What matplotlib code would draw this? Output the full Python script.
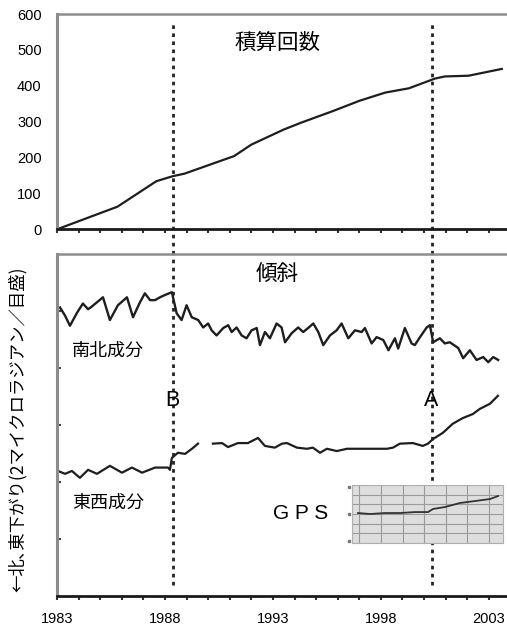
import matplotlib
matplotlib.use("Agg")
import matplotlib.pyplot as plt
import numpy as np

plt.rcParams['font.family'] = ['Liberation Sans', 'Noto Sans CJK JP', 'DejaVu Sans']

# ---- data ----
cum_years = [1983.0, 1985.8, 1987.6, 1988.36, 1988.9, 1991.2, 1992.0, 1993.5, 1994.3,
             1995.8, 1997.0, 1998.2, 1999.3, 2000.5, 2000.96, 2002.06, 2003.6]
cum_counts = [0, 63, 134, 148, 155, 204, 236, 278, 297, 330, 358, 381, 393, 420, 426, 428, 447]

ns_years = [1983.14, 1983.37, 1983.60, 1983.93, 1984.20, 1984.44, 1984.62, 1985.13, 1985.45,
            1985.82, 1986.24, 1986.52, 1986.84, 1987.07, 1987.31, 1987.54, 1987.77, 1988.00,
            1988.32, 1988.54, 1988.77, 1989.00, 1989.24, 1989.54, 1989.77, 1990.00, 1990.16,
            1990.39, 1990.70, 1990.93, 1991.09, 1991.32, 1991.55, 1991.78, 1992.01, 1992.25,
            1992.40, 1992.63, 1992.86, 1993.17, 1993.40, 1993.56, 1993.87, 1994.17, 1994.40,
            1994.63, 1994.87, 1995.10, 1995.33, 1995.64, 1995.95, 1996.18, 1996.49, 1996.80,
            1997.11, 1997.26, 1997.57, 1997.80, 1998.11, 1998.35, 1998.65, 1998.80, 1999.11,
            1999.42, 1999.57, 1999.81, 2000.12, 2000.27, 2000.42, 2000.73, 2000.96, 2001.19,
            2001.58, 2001.81, 2002.12, 2002.43, 2002.74, 2002.97, 2003.20, 2003.43]
ns_values = [5.06, 4.92, 4.74, 4.97, 5.13, 5.03, 5.08, 5.24, 4.84,
             5.10, 5.24, 4.89, 5.15, 5.31, 5.19, 5.19, 5.24, 5.28,
             5.33, 4.96, 4.84, 5.10, 4.89, 4.84, 4.71, 4.78, 4.66,
             4.57, 4.70, 4.75, 4.63, 4.71, 4.57, 4.52, 4.66, 4.70,
             4.40, 4.63, 4.52, 4.78, 4.71, 4.45, 4.61, 4.71, 4.63,
             4.70, 4.78, 4.63, 4.40, 4.57, 4.66, 4.78, 4.52, 4.66,
             4.63, 4.70, 4.43, 4.54, 4.49, 4.31, 4.52, 4.34, 4.70,
             4.43, 4.40, 4.54, 4.71, 4.75, 4.45, 4.52, 4.43, 4.45,
             4.35, 4.17, 4.31, 4.14, 4.19, 4.10, 4.19, 4.14]

ew_years = [1983.05, 1983.37, 1983.69, 1984.06, 1984.44, 1984.85, 1985.45, 1986.01, 1986.47,
            1986.94, 1987.54, 1988.14, 1988.23, 1988.32, 1988.60, 1988.93, 1989.25, 1989.53,
            1989.85,
            1990.22, 1990.64, 1990.92, 1991.38, 1991.84, 1992.31, 1992.63, 1993.09, 1993.42,
            1993.65, 1994.11, 1994.57, 1994.85, 1995.18, 1995.50, 1995.96, 1996.43, 1997.03,
            1997.63, 1998.28, 1998.56, 1998.88, 1999.48, 1999.94, 2000.18, 2000.41, 2000.87,
            2001.33, 2001.80, 2002.26, 2002.58, 2003.05, 2003.42]
ew_values = [2.19, 2.14, 2.19, 2.07, 2.21, 2.14, 2.28, 2.16, 2.25,
             2.16, 2.25, 2.25, 2.21, 2.42, 2.51, 2.49, 2.58, 2.67,
             np.nan,
             2.67, 2.68, 2.61, 2.68, 2.68, 2.77, 2.63, 2.60, 2.67,
             2.68, 2.60, 2.58, 2.60, 2.51, 2.58, 2.54, 2.58, 2.58,
             2.58, 2.58, 2.60, 2.67, 2.68, 2.63, 2.67, 2.75, 2.86,
             3.02, 3.12, 3.19, 3.28, 3.37, 3.51]

gps_years = [1996.94, 1997.49, 1998.19, 1998.88, 1999.57, 2000.18, 2000.41, 2000.96,
             2001.66, 2002.35, 2003.05, 2003.42]
gps_values = [3.10, 3.00, 3.10, 3.10, 3.20, 3.20, 3.52, 3.72, 4.14, 4.34, 4.55, 4.86]

event_years = [1988.37, 2000.36]
event_labels = ['B', 'A']
year_ticks = [1983, 1988, 1993, 1998, 2003]
count_ticks = [0, 100, 200, 300, 400, 500, 600]
ylabel_text = '←北､東下がり(2マイクロラジアン／目盛)'

# ---- figure ----
W, H = 507, 626
fig = plt.figure(figsize=(W / 100, H / 100), dpi=100)

def fx(px):
    return px / W

def fy(py):
    return 1 - py / H

xmin, xmax = 1983.0, 2003.84
left = fx(57)
ax1 = fig.add_axes([left, fy(229.3), 1 - left, fy(14) - fy(229.3)])
ax2 = fig.add_axes([left, fy(595.7), 1 - left, fy(254) - fy(595.7)])

grey_spine = '#8c8c8c'
line_col = '#1e1e1e'

for ax in (ax1, ax2):
    ax.set_xlim(xmin, xmax)
    ax.spines['right'].set_visible(False)
    ax.spines['left'].set_color(grey_spine)
    ax.spines['left'].set_linewidth(2.2)
    ax.spines['top'].set_color(grey_spine)
    ax.spines['top'].set_linewidth(1.8)
    ax.spines['bottom'].set_color('#1a1a1a')
    ax.spines['bottom'].set_linewidth(2.0)

# top panel
ax1.plot(cum_years, cum_counts, color=line_col, lw=1.6)
ax1.set_ylim(0, 600)
ax1.set_yticks(count_ticks)
ax1.set_xticks(np.arange(1983, 2004, 1))
ax1.tick_params(axis='x', direction='out', length=3, width=1.5, color='#333333',
                labelbottom=False)
ax1.tick_params(axis='y', length=0, labelsize=10.5, pad=11)
ax1.text(1993.2, 519, '積算回数', ha='center', va='center', fontsize=15.5)

# bottom panel
ax2.plot(ns_years, ns_values, color=line_col, lw=1.7)
ax2.plot(ew_years, ew_values, color=line_col, lw=1.6)
ax2.set_ylim(0, 6)
ax2.set_yticks([1, 2, 3, 4, 5])
ax2.tick_params(axis='y', direction='in', length=3, width=1.5, color='#444444',
                labelleft=False)
ax2.set_xticks(year_ticks, [str(y) for y in year_ticks])
ax2.set_xticks(np.arange(1983, 2004, 1), minor=True)
ax2.tick_params(axis='x', which='both', direction='out', length=3, width=1.5,
                color='#333333')
ax2.tick_params(axis='x', which='major', labelsize=10.5, pad=9)
ax2.set_xlim(xmin, xmax)

ax2.text(1993.2, 5.62, '傾斜', ha='center', va='center', fontsize=15.5)
ax2.text(1985.36, 4.29, '南北成分', ha='center', va='center', fontsize=13)
ax2.text(1985.36, 1.62, '東西成分', ha='center', va='center', fontsize=13)
for yr, lab in zip(event_years, event_labels):
    ax2.text(yr - 0.05, 3.43, lab, ha='center', va='center', fontsize=15.5)
ax2.text(1994.3, 1.44, 'G P S', ha='center', va='center', fontsize=15)

# event dashed lines
for yr in event_years:
    ax1.axvline(yr, ymin=-0.115, ymax=0.96, color='#222222', lw=2.0,
                ls=(0, (1.3, 1.6)), clip_on=False)
    ax2.axvline(yr, ymin=0.03, ymax=1.0, color='#222222', lw=2.0,
                ls=(0, (1.3, 1.6)), clip_on=False)

# y label
fig.text(fx(18), fy(429), ylabel_text, rotation=90, ha='center', va='center',
         fontsize=12.5, family=['Noto Sans CJK JP', 'DejaVu Sans'])

# GPS inset
axi = fig.add_axes([fx(352), fy(543), fx(503) - fx(352), fy(485) - fy(543)])
axi.set_facecolor('#dedede')
axi.set_xlim(1996.66, 2003.65)
axi.set_ylim(0, 6)
axi.set_xticks(np.arange(1997, 2004, 1))
axi.set_yticks(np.arange(0, 7, 1))
axi.grid(True, color='#9a9a9a', lw=0.8)
axi.tick_params(axis='x', length=0, labelbottom=False)
axi.tick_params(axis='y', length=0, labelleft=False)
for s in axi.spines.values():
    s.set_color('#b0b0b0')
    s.set_linewidth(0.8)
axi.plot(gps_years, gps_values, color='#333333', lw=1.3)
for v in [0.2, 3.0, 5.8]:
    axi.plot([1996.5], [v], marker='s', ms=2, color='#777777', clip_on=False)

fig.savefig('out.png', dpi=100)
